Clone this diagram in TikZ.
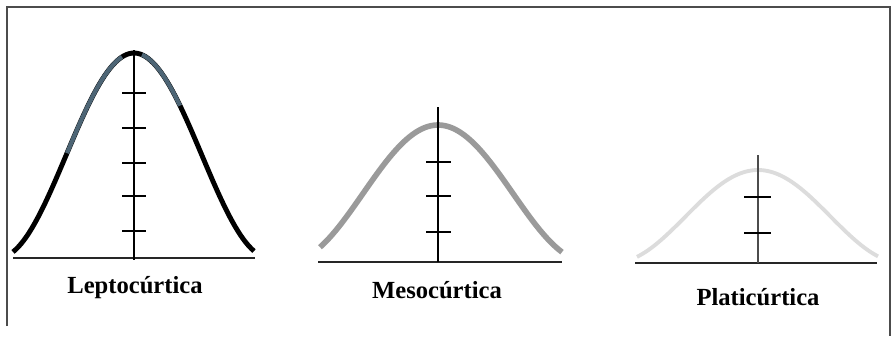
\documentclass[tikz,border=0pt]{standalone}
\usepackage{fontspec}
\setmainfont{Liberation Serif}
\usepackage{xcolor}
\usepackage{tikz}

\definecolor{leptoblue}{HTML}{4D6575}
\definecolor{mesogray}{HTML}{9A9A9A}
\definecolor{platigray}{HTML}{DCDCDC}

\tikzset{
  framing/.style={draw=black!70, line width=0.8pt},
  baseaxis/.style={draw=black!85, line width=0.9pt},
  midaxis/.style={draw=black, line width=1.1pt},
  tickmark/.style={draw=black, line width=1.2pt},
  leptoline/.style={draw=black, line width=2.8pt},
  mesoline/.style={draw=mesogray, line width=3.2pt},
  platiline/.style={draw=platigray, line width=2.2pt},
  curvename/.style={anchor=base, font=\fontsize{14}{16}\selectfont\bfseries}
}

\begin{document}
\begin{tikzpicture}[x=0.02cm, y=-0.02cm]
\useasboundingbox (0,0) rectangle (895,336);

\draw[framing] (7,326) -- (7,7) -- (890,7) -- (890,336);

% Leptocurtica
\draw[baseaxis] (13,258) -- (255,258);
\draw[leptoline] plot[domain=-121:120, samples=90] ({134+\x}, {258-205*(1+cos(\x/136*180))/2});
\draw[draw=leptoblue, line width=2.4pt] plot[domain=-67:-12, samples=40] ({134+\x}, {258-205*(1+cos(\x/136*180))/2});
\draw[draw=leptoblue, line width=2.4pt] plot[domain=8:46, samples=30] ({134+\x}, {258-205*(1+cos(\x/136*180))/2});
\draw[midaxis] (134,50) -- (134,260);
\foreach \ty in {93,128,163,196,231}
  \draw[tickmark] (122,\ty) -- (146,\ty);
\node[curvename] (lepto) at (135,293) {Leptocúrtica};

% Mesocurtica
\draw[baseaxis] (318,262) -- (562,262);
\draw[mesoline] plot[domain=-118:124, samples=90] ({438+\x}, {262-137*(1+cos(\x/150*180))/2});
\draw[midaxis] (438,107) -- (438,262);
\foreach \ty in {162,196,232}
  \draw[tickmark] (426,\ty) -- (451,\ty);
\node[curvename] (meso) at (437,298) {Mesocúrtica};

% Platicurtica
\draw[baseaxis] (635,263) -- (877,263);
\draw[platiline] plot[domain=-121:120, samples=90] ({758+\x}, {263-93*(1+cos(\x/145*180))/2});
\draw[midaxis, draw=black!70, line width=1.6pt] (758,155) -- (758,263);
\foreach \ty in {197,233}
  \draw[tickmark] (744,\ty) -- (771,\ty);
\node[curvename] (plati) at (758,305) {Platicúrtica};
\end{tikzpicture}
\end{document}
